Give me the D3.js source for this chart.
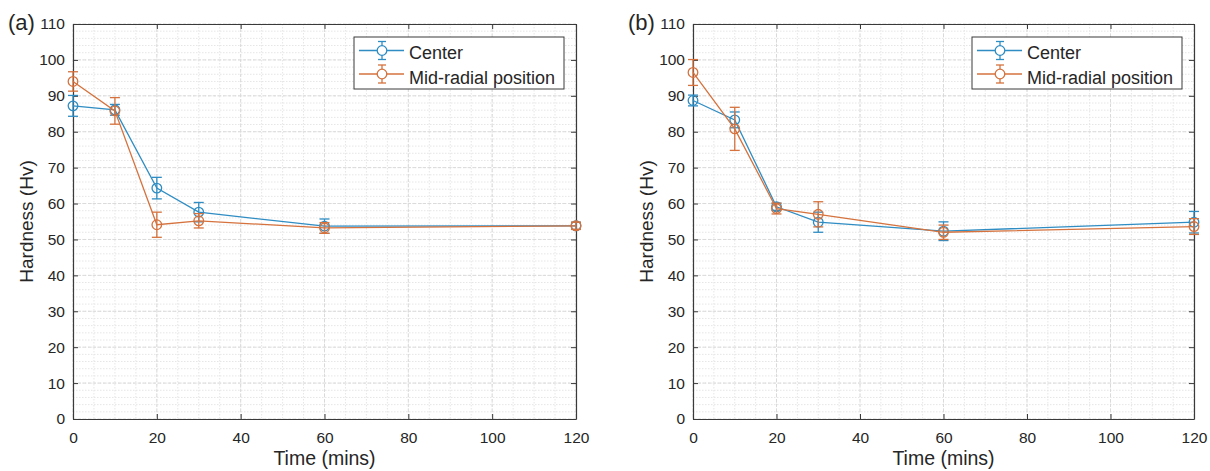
<!DOCTYPE html>
<html>
<head>
<meta charset="utf-8">
<script src="https://cdn.jsdelivr.net/npm/d3@7"></script>
<style>
  html, body { margin: 0; padding: 0; background: #fff; }
  svg { display: block; }
  text { font-family: "Liberation Sans", Arial, Helvetica, sans-serif; fill: #262626; }
</style>
</head>
<body>
<svg id="chart" width="1210" height="471"></svg>
<script>
// Sampling times (minutes)
const times = [0, 10, 20, 30, 60, 120];

// Panel (a): hardness and error half-widths
const centerA    = [87.2, 86.1, 64.3, 57.6, 53.7, 53.8];
const centerAErr = [2.9, 1.5, 3.0, 2.7, 2.0, 1.0];
const midA       = [94.0, 85.8, 54.1, 55.2, 53.2, 53.8];
const midAErr    = [2.7, 3.7, 3.5, 2.0, 1.5, 1.0];

// Panel (b): hardness and error half-widths
const centerB    = [88.7, 83.3, 59.1, 54.8, 52.3, 54.8];
const centerBErr = [1.5, 2.2, 1.0, 2.8, 2.6, 3.0];
const midB       = [96.5, 80.8, 58.6, 57.0, 52.0, 53.6];
const midBErr    = [3.6, 6.0, 1.5, 3.5, 2.0, 2.2];

// Axis ticks
const xTicks = [0, 20, 40, 60, 80, 100, 120];
const yTicks = [0, 10, 20, 30, 40, 50, 60, 70, 80, 90, 100, 110];
const xMinor = d3.range(0, 121, 5);
const yMinor = d3.range(0, 111, 2);

const seriesNames = ["Center", "Mid-radial position"];
const seriesColors = ["#2f8dc3", "#d5723d"];

const panels = [
  { label: "(a)", left: 73, right: 576, series: [[centerA, centerAErr], [midA, midAErr]] },
  { label: "(b)", left: 693, right: 1194, series: [[centerB, centerBErr], [midB, midBErr]] }
];

const plotTop = 24, plotBottom = 419;
const svg = d3.select("#chart");
const axisColor = "#3a3a3a";

panels.forEach(p => {
  const x = d3.scaleLinear().domain([0, 120]).range([p.left, p.right]);
  const y = d3.scaleLinear().domain([0, 110]).range([plotBottom, plotTop]);
  const g = svg.append("g");

  // plot background
  g.append("rect").attr("x", p.left).attr("y", plotTop)
    .attr("width", p.right - p.left).attr("height", plotBottom - plotTop)
    .attr("fill", "#fff");

  // minor grid
  const grid = g.append("g");
  grid.selectAll(".vmin").data(xMinor).join("line")
    .attr("x1", d => x(d)).attr("x2", d => x(d)).attr("y1", plotTop).attr("y2", plotBottom)
    .attr("stroke", "#e6e6e6").attr("stroke-width", 1).attr("stroke-dasharray", "1.5,1.5");
  grid.selectAll(".hmin").data(yMinor).join("line")
    .attr("y1", d => y(d)).attr("y2", d => y(d)).attr("x1", p.left).attr("x2", p.right)
    .attr("stroke", "#e6e6e6").attr("stroke-width", 1).attr("stroke-dasharray", "1.5,1.5");
  // major grid
  grid.selectAll(".vmaj").data(xTicks).join("line")
    .attr("x1", d => x(d)).attr("x2", d => x(d)).attr("y1", plotTop).attr("y2", plotBottom)
    .attr("stroke", "#dadada").attr("stroke-width", 1).attr("stroke-dasharray", "3,2");
  grid.selectAll(".hmaj").data(yTicks).join("line")
    .attr("y1", d => y(d)).attr("y2", d => y(d)).attr("x1", p.left).attr("x2", p.right)
    .attr("stroke", "#dadada").attr("stroke-width", 1).attr("stroke-dasharray", "3,2");

  // axes with inward ticks on all four sides
  const fmt = d3.format("d");
  const axB = g.append("g").attr("transform", `translate(0,${plotBottom})`)
    .call(d3.axisBottom(x).tickValues(xTicks).tickFormat(fmt).tickSizeInner(-5).tickSizeOuter(0).tickPadding(13));
  const axT = g.append("g").attr("transform", `translate(0,${plotTop})`)
    .call(d3.axisTop(x).tickValues(xTicks).tickFormat("").tickSizeInner(-5).tickSizeOuter(0));
  const axL = g.append("g").attr("transform", `translate(${p.left},0)`)
    .call(d3.axisLeft(y).tickValues(yTicks).tickFormat(fmt).tickSizeInner(-5).tickSizeOuter(0).tickPadding(8));
  const axR = g.append("g").attr("transform", `translate(${p.right},0)`)
    .call(d3.axisRight(y).tickValues(yTicks).tickFormat("").tickSizeInner(-5).tickSizeOuter(0));
  [axB, axT, axL, axR].forEach(a => {
    a.select(".domain").attr("stroke", axisColor).attr("stroke-width", 1.2);
    a.selectAll(".tick line").attr("stroke", axisColor);
    a.selectAll(".tick text").attr("font-size", 15.5).attr("fill", "#262626")
      .style("font-family", '"Liberation Sans", Arial, sans-serif');
  });

  // axis titles
  g.append("text").attr("x", (p.left + p.right) / 2).attr("y", 465)
    .attr("text-anchor", "middle").attr("font-size", 19.5).text("Time (mins)");
  g.append("text")
    .attr("transform", `translate(${p.left - 40},${(plotTop + plotBottom) / 2}) rotate(-90)`)
    .attr("text-anchor", "middle").attr("font-size", 19).text("Hardness (Hv)");
  // panel tag
  g.append("text").attr("x", p.left - 65).attr("y", 30)
    .attr("font-size", 22).text(p.label);

  // series
  p.series.forEach(([vals, errs], si) => {
    const color = seriesColors[si];
    const pts = times.map((t, i) => ({ t, v: vals[i], e: errs[i] }));
    const sg = g.append("g");
    sg.append("path").datum(pts)
      .attr("fill", "none").attr("stroke", color).attr("stroke-width", 1.3)
      .attr("d", d3.line().x(d => x(d.t)).y(d => y(d.v)));
    const eb = sg.selectAll(".eb").data(pts).join("g");
    eb.append("line")
      .attr("x1", d => x(d.t)).attr("x2", d => x(d.t))
      .attr("y1", d => y(d.v - d.e)).attr("y2", d => y(d.v + d.e))
      .attr("stroke", color).attr("stroke-width", 1.3);
    [-1, 1].forEach(s => {
      eb.append("line")
        .attr("x1", d => x(d.t) - 5).attr("x2", d => x(d.t) + 5)
        .attr("y1", d => y(d.v + s * d.e)).attr("y2", d => y(d.v + s * d.e))
        .attr("stroke", color).attr("stroke-width", 1.3);
    });
    eb.append("circle")
      .attr("cx", d => x(d.t)).attr("cy", d => y(d.v)).attr("r", 4.8)
      .attr("fill", "none").attr("stroke", color).attr("stroke-width", 1.3);
  });

  // legend
  const lgW = 210, lgH = 52;
  const lgX = p.right - 222, lgY = 37;
  const lg = g.append("g").attr("transform", `translate(${lgX},${lgY})`);
  lg.append("rect").attr("width", lgW).attr("height", lgH)
    .attr("fill", "#fff").attr("stroke", axisColor).attr("stroke-width", 1);
  seriesNames.forEach((name, i) => {
    const cy = 13.5 + i * 23.5;
    const c = seriesColors[i];
    lg.append("line").attr("x1", 5).attr("x2", 50).attr("y1", cy).attr("y2", cy)
      .attr("stroke", c).attr("stroke-width", 1.3);
    lg.append("line").attr("x1", 28).attr("x2", 28).attr("y1", cy - 9).attr("y2", cy + 9)
      .attr("stroke", c).attr("stroke-width", 1.3);
    [-9, 9].forEach(o => lg.append("line").attr("x1", 24).attr("x2", 32)
      .attr("y1", cy + o).attr("y2", cy + o).attr("stroke", c).attr("stroke-width", 1.3));
    lg.append("circle").attr("cx", 28).attr("cy", cy).attr("r", 4.8)
      .attr("fill", "#fff").attr("stroke", c).attr("stroke-width", 1.3);
    lg.append("text").attr("x", 55).attr("y", 21.5 + i * 25)
      .attr("font-size", 18).text(name);
  });
});
</script>
</body>
</html>
